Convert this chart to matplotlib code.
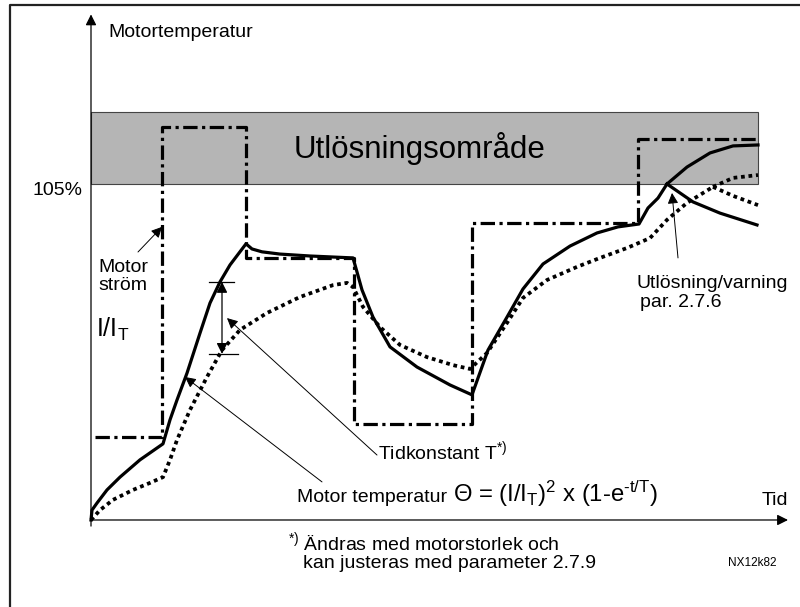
import matplotlib
matplotlib.use("Agg")
import matplotlib.pyplot as plt
from matplotlib.patches import Rectangle

plt.rcParams['font.family'] = ['Liberation Sans', 'DejaVu Sans']
plt.rcParams['mathtext.fontset'] = 'custom'
plt.rcParams['mathtext.rm'] = 'Liberation Sans'
plt.rcParams['mathtext.it'] = 'Liberation Sans'
plt.rcParams['mathtext.default'] = 'regular'

# ---- data (time in arbitrary units, temperature in %) ----
trip_level = 105.0
trip_top = 127.5
t_end = 667

# motor current I/I_T (step levels, scaled to the temperature axis)
current_t = [4, 71, 155, 263, 381, 547, 667]
current_level = [25.9, 122.8, 81.9, 30.0, 92.8, 119.1, 119.1]

# motor temperature, time constant T (solid)
temp_t = [0, 1, 6, 16, 29, 49, 72, 79, 86, 96, 109, 119, 129, 139, 155,
          161, 171, 189, 219, 262, 266, 271, 282, 299, 326, 359, 381,
          397, 416, 432, 452, 479, 506, 527, 548, 557, 567, 576]
temp_y = [0, 3.1, 5.3, 9.4, 13.4, 18.8, 23.8, 31.3, 37.5, 45.9, 58.4, 67.8,
          74.4, 79.7, 86.3, 84.7, 83.8, 83.1, 82.5, 81.9, 77.5, 71.9, 63.4,
          54.1, 47.8, 42.2, 39.1, 53.1, 63.4, 72.2, 80.0, 85.6, 89.7, 91.6,
          92.5, 97.5, 100.6, 105.0]
temp_up_t = [576, 596, 619, 642, 667]
temp_up_y = [105.0, 110.3, 114.7, 116.9, 117.2]
temp_dn_t = [576, 602, 629, 666]
temp_dn_y = [105.0, 99.4, 95.9, 92.2]

# motor temperature, longer time constant (dotted)
temp2_t = [0, 9, 22, 42, 59, 72, 79, 86, 99, 116, 131, 149, 176, 209, 242,
           256, 262, 272, 289, 309, 336, 362, 379, 396, 416, 432, 456, 486,
           509, 536, 559, 576, 596, 622]
temp2_y = [0, 3.1, 6.3, 9.4, 11.6, 13.4, 18.8, 25.0, 34.4, 44.7, 53.1, 59.4,
           64.7, 69.7, 73.4, 74.1, 72.8, 66.6, 60.3, 54.7, 50.9, 48.4, 47.2,
           52.2, 61.6, 69.4, 75.0, 79.1, 81.9, 85.0, 88.1, 93.8, 99.1, 104.1]
temp2_up_t = [622, 642, 667]
temp2_up_y = [104.1, 106.9, 107.8]
temp2_dn_t = [622, 642, 667]
temp2_dn_y = [104.1, 101.3, 98.4]

fig = plt.figure(figsize=(8.0, 6.07), dpi=100)
ax = fig.add_axes([0, 0, 1, 1])
ax.set_xlim(-91, 709)
ax.set_ylim(-27.19, 162.5)
ax.axis('off')

# outer frame
ax.plot([-81, -81, 720], [-40, 160.9, 160.9], color='#222222', lw=1.6,
        solid_capstyle='butt', zorder=1)

# trip band
ax.add_patch(Rectangle((0, trip_level), t_end, trip_top - trip_level,
                       facecolor='#b5b5b5', edgecolor='#444444', lw=0.8,
                       zorder=1))
ax.text(329, 113.1, "Utlösningsområde", fontsize=22.5, ha='center',
        va='baseline', zorder=5)

# axes arrows
ax.annotate('', xy=(0, 158.0), xytext=(0, -1.9),
            arrowprops=dict(arrowstyle='-|>', lw=0.9, color='black',
                            mutation_scale=16, shrinkA=0, shrinkB=0))
ax.annotate('', xy=(697, 0), xytext=(0, 0),
            arrowprops=dict(arrowstyle='-|>', lw=0.9, color='black',
                            mutation_scale=16, shrinkA=0, shrinkB=0))

# current (dash-dot)
ax.plot(current_t, current_level, drawstyle='steps-post', color='black',
        lw=2.3, linestyle=(0, (4.5, 1.4, 1.0, 1.4)), dash_capstyle='butt',
        zorder=3)

# solid temperature
for tx, ty in ((temp_t, temp_y), (temp_up_t, temp_up_y), (temp_dn_t, temp_dn_y)):
    ax.plot(tx, ty, color='black', lw=2.3, solid_joinstyle='round', zorder=4)

# dotted temperature
for tx, ty in ((temp2_t, temp2_y), (temp2_up_t, temp2_up_y), (temp2_dn_t, temp2_dn_y)):
    ax.plot(tx, ty, color='black', lw=2.7, linestyle=(0, (1, 1.0)),
            dash_capstyle='butt', zorder=4)

# time-constant measure
ax.plot([118, 143], [74.4, 74.4], color='black', lw=0.9)
ax.plot([118, 147], [51.9, 51.9], color='black', lw=0.9)
ax.annotate('', xy=(131, 74.4), xytext=(131, 51.9),
            arrowprops=dict(arrowstyle='<|-|>', lw=0.9, color='black',
                            mutation_scale=16, shrinkA=0, shrinkB=0))

arrow_kw = dict(arrowstyle='-|>', lw=0.7, color='black', mutation_scale=16,
                shrinkA=0, shrinkB=0)
ax.annotate('', xy=(71, 91.6), xytext=(47, 83.75), arrowprops=arrow_kw)
ax.annotate('', xy=(136, 63.1), xytext=(286, 20.3), arrowprops=arrow_kw)
ax.annotate('', xy=(94, 44.7), xytext=(231, 11.9), arrowprops=arrow_kw)
ax.annotate('', xy=(581, 102.2), xytext=(587, 81.9), arrowprops=arrow_kw)

# texts
fs = 14
ax.text(17, 150.9, "Motortemperatur", fontsize=fs, va='baseline')
ax.text(-9, 101.6, "105%", fontsize=fs, ha='right', va='baseline')
ax.text(7, 77.5, "Motor", fontsize=fs, va='baseline')
ax.text(7, 71.9, "ström", fontsize=fs, va='baseline')
ax.text(5, 57.2, r"I/I$_\mathrm{T}$", fontsize=18, va='baseline')
ax.text(287, 19.1, r"Tidkonstant T$^{*)}$", fontsize=fs, va='baseline')
ax.text(206, 5.6, "Motor temperatur", fontsize=fs, va='baseline')
ax.text(362, 5.6, r"Θ = (I/I$_\mathrm{T}$)$^2$ x (1-e$^{\text{-t/T}}$)",
        fontsize=17.2, va='baseline')
ax.text(671, 4.7, "Tid", fontsize=fs, va='baseline')
ax.text(546, 72.5, "Utlösning/varning", fontsize=fs, va='baseline')
ax.text(549, 66.6, "par. 2.7.6", fontsize=fs, va='baseline')
ax.text(197, -9.4, r"$^{*)}$ Ändras med motorstorlek och", fontsize=fs,
        va='baseline')
ax.text(212, -15.0, "kan justeras med parameter 2.7.9", fontsize=fs,
        va='baseline')
ax.text(637, -14.4, "NX12k82", fontsize=8.5, va='baseline')

fig.savefig("out.png", dpi=100, facecolor='white')
